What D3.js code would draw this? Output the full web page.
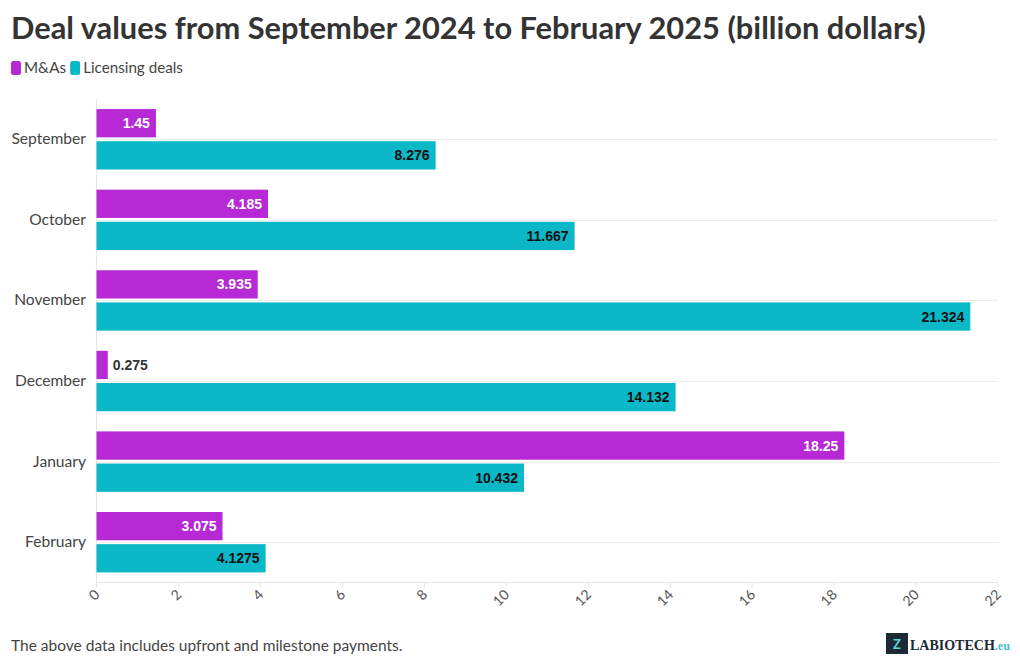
<!DOCTYPE html>
<html><head><meta charset="utf-8">
<script src="https://cdn.jsdelivr.net/npm/d3@7"></script>
<style>
body{margin:0;background:#fff;}
svg text{font-family:"Source Sans Pro","Lato","Noto Sans",sans-serif;}
</style></head>
<body><svg id="c" width="1020" height="668"></svg>
<script>
const months = ["September","October","November","December","January","February"];
const series = ["M&As","Licensing deals"];
const mnaValues = [1.45,4.185,3.935,0.275,18.25,3.075];
const licValues = [8.276,11.667,21.324,14.132,10.432,4.1275];
const mnaLabels = ["1.45","4.185","3.935","0.275","18.25","3.075"];
const licLabels = ["8.276","11.667","21.324","14.132","10.432","4.1275"];
const xTicks = [0,2,4,6,8,10,12,14,16,18,20,22];
const colors = ["#b629d4","#0bb8c8"];

const svg = d3.select("#c");
const m = {l:96.5, r:998, t:99, b:582.5};
const x = d3.scaleLinear().domain([0,22]).range([m.l,m.r]);
const y = d3.scaleBand().domain(months).range([m.t,m.b]).paddingInner(0.25).paddingOuter(0.125);
const y1 = d3.scaleBand().domain(series).range([0,y.bandwidth()]).paddingInner(0.12);

// title
svg.append("text").attr("x",11).attr("y",39).attr("font-size",30.8).attr("font-weight",700)
  .attr("fill","#333").text("Deal values from September 2024 to February 2025 (billion dollars)");

// legend
let lx = 11;
series.forEach((s,i)=>{
  svg.append("rect").attr("x",lx).attr("y",61).attr("width",10).attr("height",14).attr("rx",2.5).attr("fill",colors[i]);
  const t = svg.append("text").attr("x",lx+13).attr("y",73).attr("font-size",15.2).attr("fill","#444").text(s);
  lx += 13 + t.node().getComputedTextLength() + 4;
});

// gridlines at category centres
svg.append("g").selectAll("line").data(months).join("line")
  .attr("x1",m.l).attr("x2",m.r)
  .attr("y1",d=>Math.round(y(d)+y.bandwidth()/2)+0.5).attr("y2",d=>Math.round(y(d)+y.bandwidth()/2)+0.5)
  .attr("stroke","#ececec");
svg.append("line").attr("x1",m.l).attr("x2",m.r).attr("y1",m.b).attr("y2",m.b).attr("stroke","#e6e6e6");
svg.append("line").attr("x1",m.l).attr("x2",m.l).attr("y1",m.t).attr("y2",m.b).attr("stroke","#e6e6e6");

// x ticks
const xa = svg.append("g").attr("transform",`translate(0,${m.b})`);
xTicks.forEach(v=>{
  xa.append("line").attr("x1",x(v)).attr("x2",x(v)).attr("y1",0).attr("y2",5).attr("stroke","#e6e6e6");
  xa.append("text").attr("transform",`translate(${x(v)+4},${13}) rotate(-45)`)
    .attr("text-anchor","end").attr("font-size",14).attr("fill","#555").text(v);
});

// y labels
svg.append("g").selectAll("text").data(months).join("text")
  .attr("x",86).attr("y",d=>y(d)+y.bandwidth()/2+5)
  .attr("text-anchor","end").attr("font-size",15.6).attr("fill","#444").text(d=>d);

// bars
const data = months.map((mo,i)=>({mo, vals:[mnaValues[i],licValues[i]], labs:[mnaLabels[i],licLabels[i]]}));
const g = svg.append("g");
data.forEach(d=>{
  series.forEach((s,j)=>{
    const v = d.vals[j];
    const by = y(d.mo)+y1(s);
    const bh = y1.bandwidth();
    g.append("rect").attr("x",x(0)).attr("y",by).attr("width",x(v)-x(0)).attr("height",bh).attr("fill",colors[j]);
    const w = x(v)-x(0);
    const inside = w > 45;
    g.append("text")
      .attr("x", inside ? x(v)-6 : x(v)+5)
      .attr("y", by+bh/2+5)
      .attr("text-anchor", inside ? "end":"start")
      .style("font-family","'Liberation Sans',Arial,sans-serif")
      .attr("font-size",14).attr("font-weight",700)
      .attr("fill", inside ? (j===0?"#fff":"#111") : "#333")
      .text(d.labs[j]);
  });
});

// footnote
svg.append("text").attr("x",11).attr("y",651).attr("font-size",15.5).attr("fill","#444")
  .text("The above data includes upfront and milestone payments.");

// logo
const lg = svg.append("g").attr("transform","translate(886,633)");
lg.append("rect").attr("width",22).attr("height",21).attr("fill","#1b2a35");
lg.append("text").attr("x",11).attr("y",15.5).attr("text-anchor","middle").attr("font-size",13).attr("font-weight",700).attr("fill","#5fd0dc").text("Z");
const lt = lg.append("text").attr("x",24).attr("y",17).style("font-family","'Liberation Serif',serif")
  .attr("font-size",14).attr("font-weight",700).attr("fill","#1b2a35");
lt.append("tspan").text("LABIOTECH");
lt.append("tspan").attr("fill","#3cc3d0").attr("font-size",12).text(".eu");
</script></body></html>
